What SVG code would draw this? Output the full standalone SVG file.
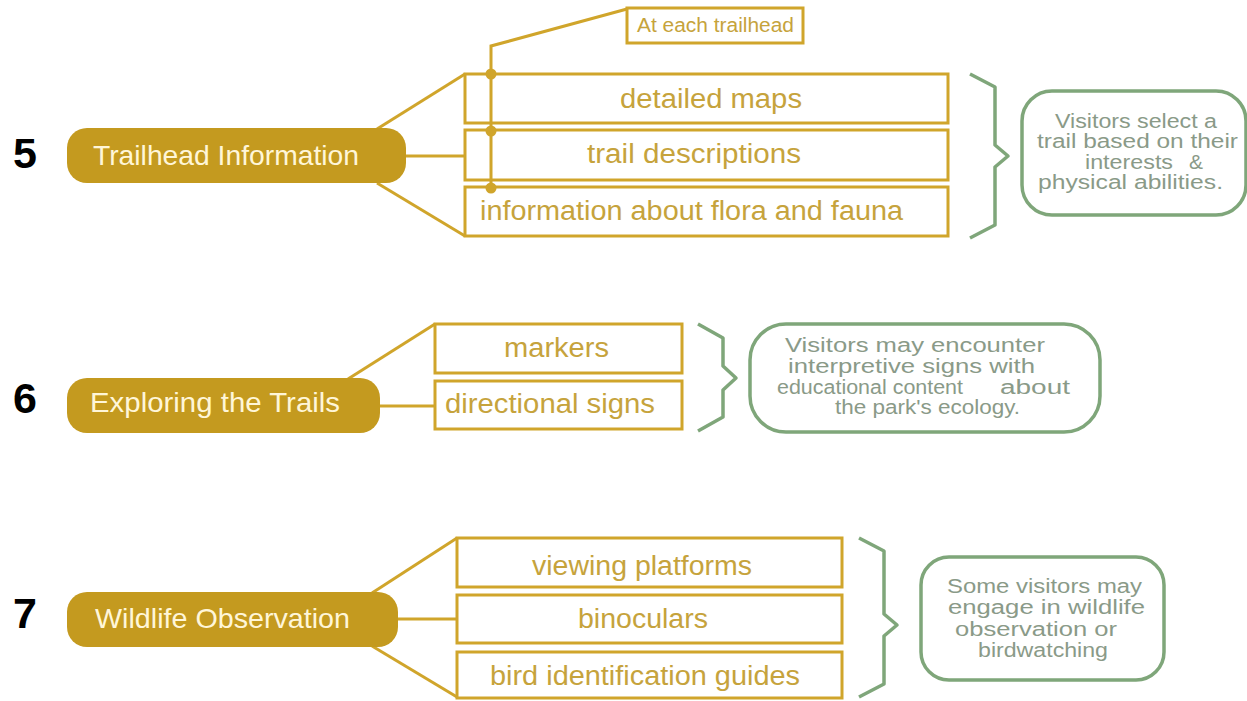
<svg xmlns="http://www.w3.org/2000/svg" width="1247" height="701" viewBox="0 0 1247 701">
<style>
.num{font-family:"Liberation Sans",Arial,sans-serif;font-weight:bold;font-size:43px;fill:#000}
.pill{fill:#C49A1F}
.pt{font-family:"Liberation Sans",Arial,sans-serif;font-size:28px;fill:#FFF6D8}
.box{fill:#fff;stroke:#D0A52B;stroke-width:3}
.bt{font-family:"Liberation Sans",Arial,sans-serif;font-size:27px;fill:#C6A33C}
.ct{font-family:"Liberation Sans",Arial,sans-serif;font-size:20px;fill:#C6A33C}
.con{stroke:#D0A52B;stroke-width:3;fill:none}
.dot{fill:#D0A52B}
.brace{fill:none;stroke:#7FA67A;stroke-width:3.5;stroke-linejoin:round}
.gbox{fill:#fff;stroke:#7FA67A;stroke-width:3.5}
.gt{font-family:"Liberation Sans",Arial,sans-serif;font-size:20px;fill:#8A9A88}
</style>
<g id="connectors">
  <line class="con" x1="377" y1="129" x2="465" y2="74"/>
  <line class="con" x1="406" y1="156" x2="465" y2="156"/>
  <line class="con" x1="377" y1="183" x2="465" y2="236"/>
  <line class="con" x1="348" y1="379" x2="435" y2="324"/>
  <line class="con" x1="380" y1="406" x2="435" y2="406"/>
  <line class="con" x1="372" y1="593" x2="457" y2="538"/>
  <line class="con" x1="398" y1="619" x2="457" y2="619"/>
  <line class="con" x1="372" y1="646" x2="457" y2="697"/>
</g>
<g id="n5">
  <text class="num" x="13" y="168">5</text>
  <rect class="pill" x="67" y="128" width="339" height="55" rx="20"/>
  <text class="pt" x="93" y="165" textLength="266" lengthAdjust="spacingAndGlyphs">Trailhead Information</text>
</g>
<g id="n5a"><rect class="box" x="465" y="74" width="483" height="49"/><text class="bt" x="620" y="108" textLength="182" lengthAdjust="spacingAndGlyphs">detailed maps</text></g>
<g id="n5b"><rect class="box" x="465" y="130" width="483" height="50"/><text class="bt" x="587" y="163" textLength="214" lengthAdjust="spacingAndGlyphs">trail descriptions</text></g>
<g id="n5c"><rect class="box" x="465" y="187" width="483" height="49"/><text class="bt" x="480" y="220" textLength="423" lengthAdjust="spacingAndGlyphs">information about flora and fauna</text></g>
<g id="callout">
  <polyline class="con" points="627,9 491,46 491,188"/>
  <circle class="dot" cx="491" cy="74" r="5.5"/>
  <circle class="dot" cx="491" cy="131" r="5.5"/>
  <circle class="dot" cx="491" cy="188" r="5.5"/>
  <rect class="box" x="627" y="8" width="176" height="35"/>
  <text class="ct" x="637" y="32" textLength="157" lengthAdjust="spacingAndGlyphs">At each trailhead</text>
</g>
<g id="b5">
  <path class="brace" d="M970,74 L995,87 L995,145 L1008,156 L995,167 L995,225 L970,238"/>
</g>
<g id="g5">
  <rect class="gbox" x="1022" y="91" width="224" height="124" rx="30"/>
  <text class="gt" x="1055" y="128" textLength="162" lengthAdjust="spacingAndGlyphs">Visitors select a</text>
  <text class="gt" x="1037" y="148" textLength="201" lengthAdjust="spacingAndGlyphs">trail based on their</text>
  <text class="gt" x="1085" y="169" textLength="88" lengthAdjust="spacingAndGlyphs">interests</text>
  <text class="gt" x="1189" y="169" textLength="14" lengthAdjust="spacingAndGlyphs">&amp;</text>
  <text class="gt" x="1038" y="189" textLength="185" lengthAdjust="spacingAndGlyphs">physical abilities.</text>
</g>
<g id="n6">
  <text class="num" x="13" y="413">6</text>
  <rect class="pill" x="67" y="378" width="313" height="55" rx="20"/>
  <text class="pt" x="90" y="412" textLength="250" lengthAdjust="spacingAndGlyphs">Exploring the Trails</text>
</g>
<g id="n6a"><rect class="box" x="435" y="324" width="247" height="49"/><text class="bt" x="504" y="357" textLength="105" lengthAdjust="spacingAndGlyphs">markers</text></g>
<g id="n6b"><rect class="box" x="435" y="381" width="247" height="48"/><text class="bt" x="445" y="413" textLength="210" lengthAdjust="spacingAndGlyphs">directional signs</text></g>
<g id="b6">
  <path class="brace" d="M698,324 L723,338 L723,366 L736,378 L723,390 L723,417 L698,431"/>
</g>
<g id="g6">
  <rect class="gbox" x="750" y="324" width="350" height="108" rx="36"/>
  <text class="gt" x="785" y="352" textLength="260" lengthAdjust="spacingAndGlyphs">Visitors may encounter</text>
  <text class="gt" x="788" y="373" textLength="247" lengthAdjust="spacingAndGlyphs">interpretive signs with</text>
  <text class="gt" x="777" y="394" textLength="186" lengthAdjust="spacingAndGlyphs">educational content</text>
  <text class="gt" x="1000" y="394" textLength="70" lengthAdjust="spacingAndGlyphs">about</text>
  <text class="gt" x="835" y="414" textLength="185" lengthAdjust="spacingAndGlyphs">the park's ecology.</text>
</g>
<g id="n7">
  <text class="num" x="13" y="628">7</text>
  <rect class="pill" x="67" y="592" width="331" height="55" rx="20"/>
  <text class="pt" x="95" y="628" textLength="255" lengthAdjust="spacingAndGlyphs">Wildlife Observation</text>
</g>
<g id="n7a"><rect class="box" x="457" y="538" width="385" height="49"/><text class="bt" x="532" y="575" textLength="220" lengthAdjust="spacingAndGlyphs">viewing platforms</text></g>
<g id="n7b"><rect class="box" x="457" y="595" width="385" height="48"/><text class="bt" x="578" y="628" textLength="130" lengthAdjust="spacingAndGlyphs">binoculars</text></g>
<g id="n7c"><rect class="box" x="457" y="652" width="385" height="46"/><text class="bt" x="490" y="685" textLength="310" lengthAdjust="spacingAndGlyphs">bird identification guides</text></g>
<g id="b7">
  <path class="brace" d="M859,538 L884,551 L884,614 L897,625 L884,636 L884,684 L859,697"/>
</g>
<g id="g7">
  <rect class="gbox" x="921" y="557" width="243" height="123" rx="28"/>
  <text class="gt" x="947" y="593" textLength="195" lengthAdjust="spacingAndGlyphs">Some visitors may</text>
  <text class="gt" x="948" y="614" textLength="197" lengthAdjust="spacingAndGlyphs">engage in wildlife</text>
  <text class="gt" x="955" y="636" textLength="162" lengthAdjust="spacingAndGlyphs">observation or</text>
  <text class="gt" x="978" y="657" textLength="130" lengthAdjust="spacingAndGlyphs">birdwatching</text>
</g>
</svg>
